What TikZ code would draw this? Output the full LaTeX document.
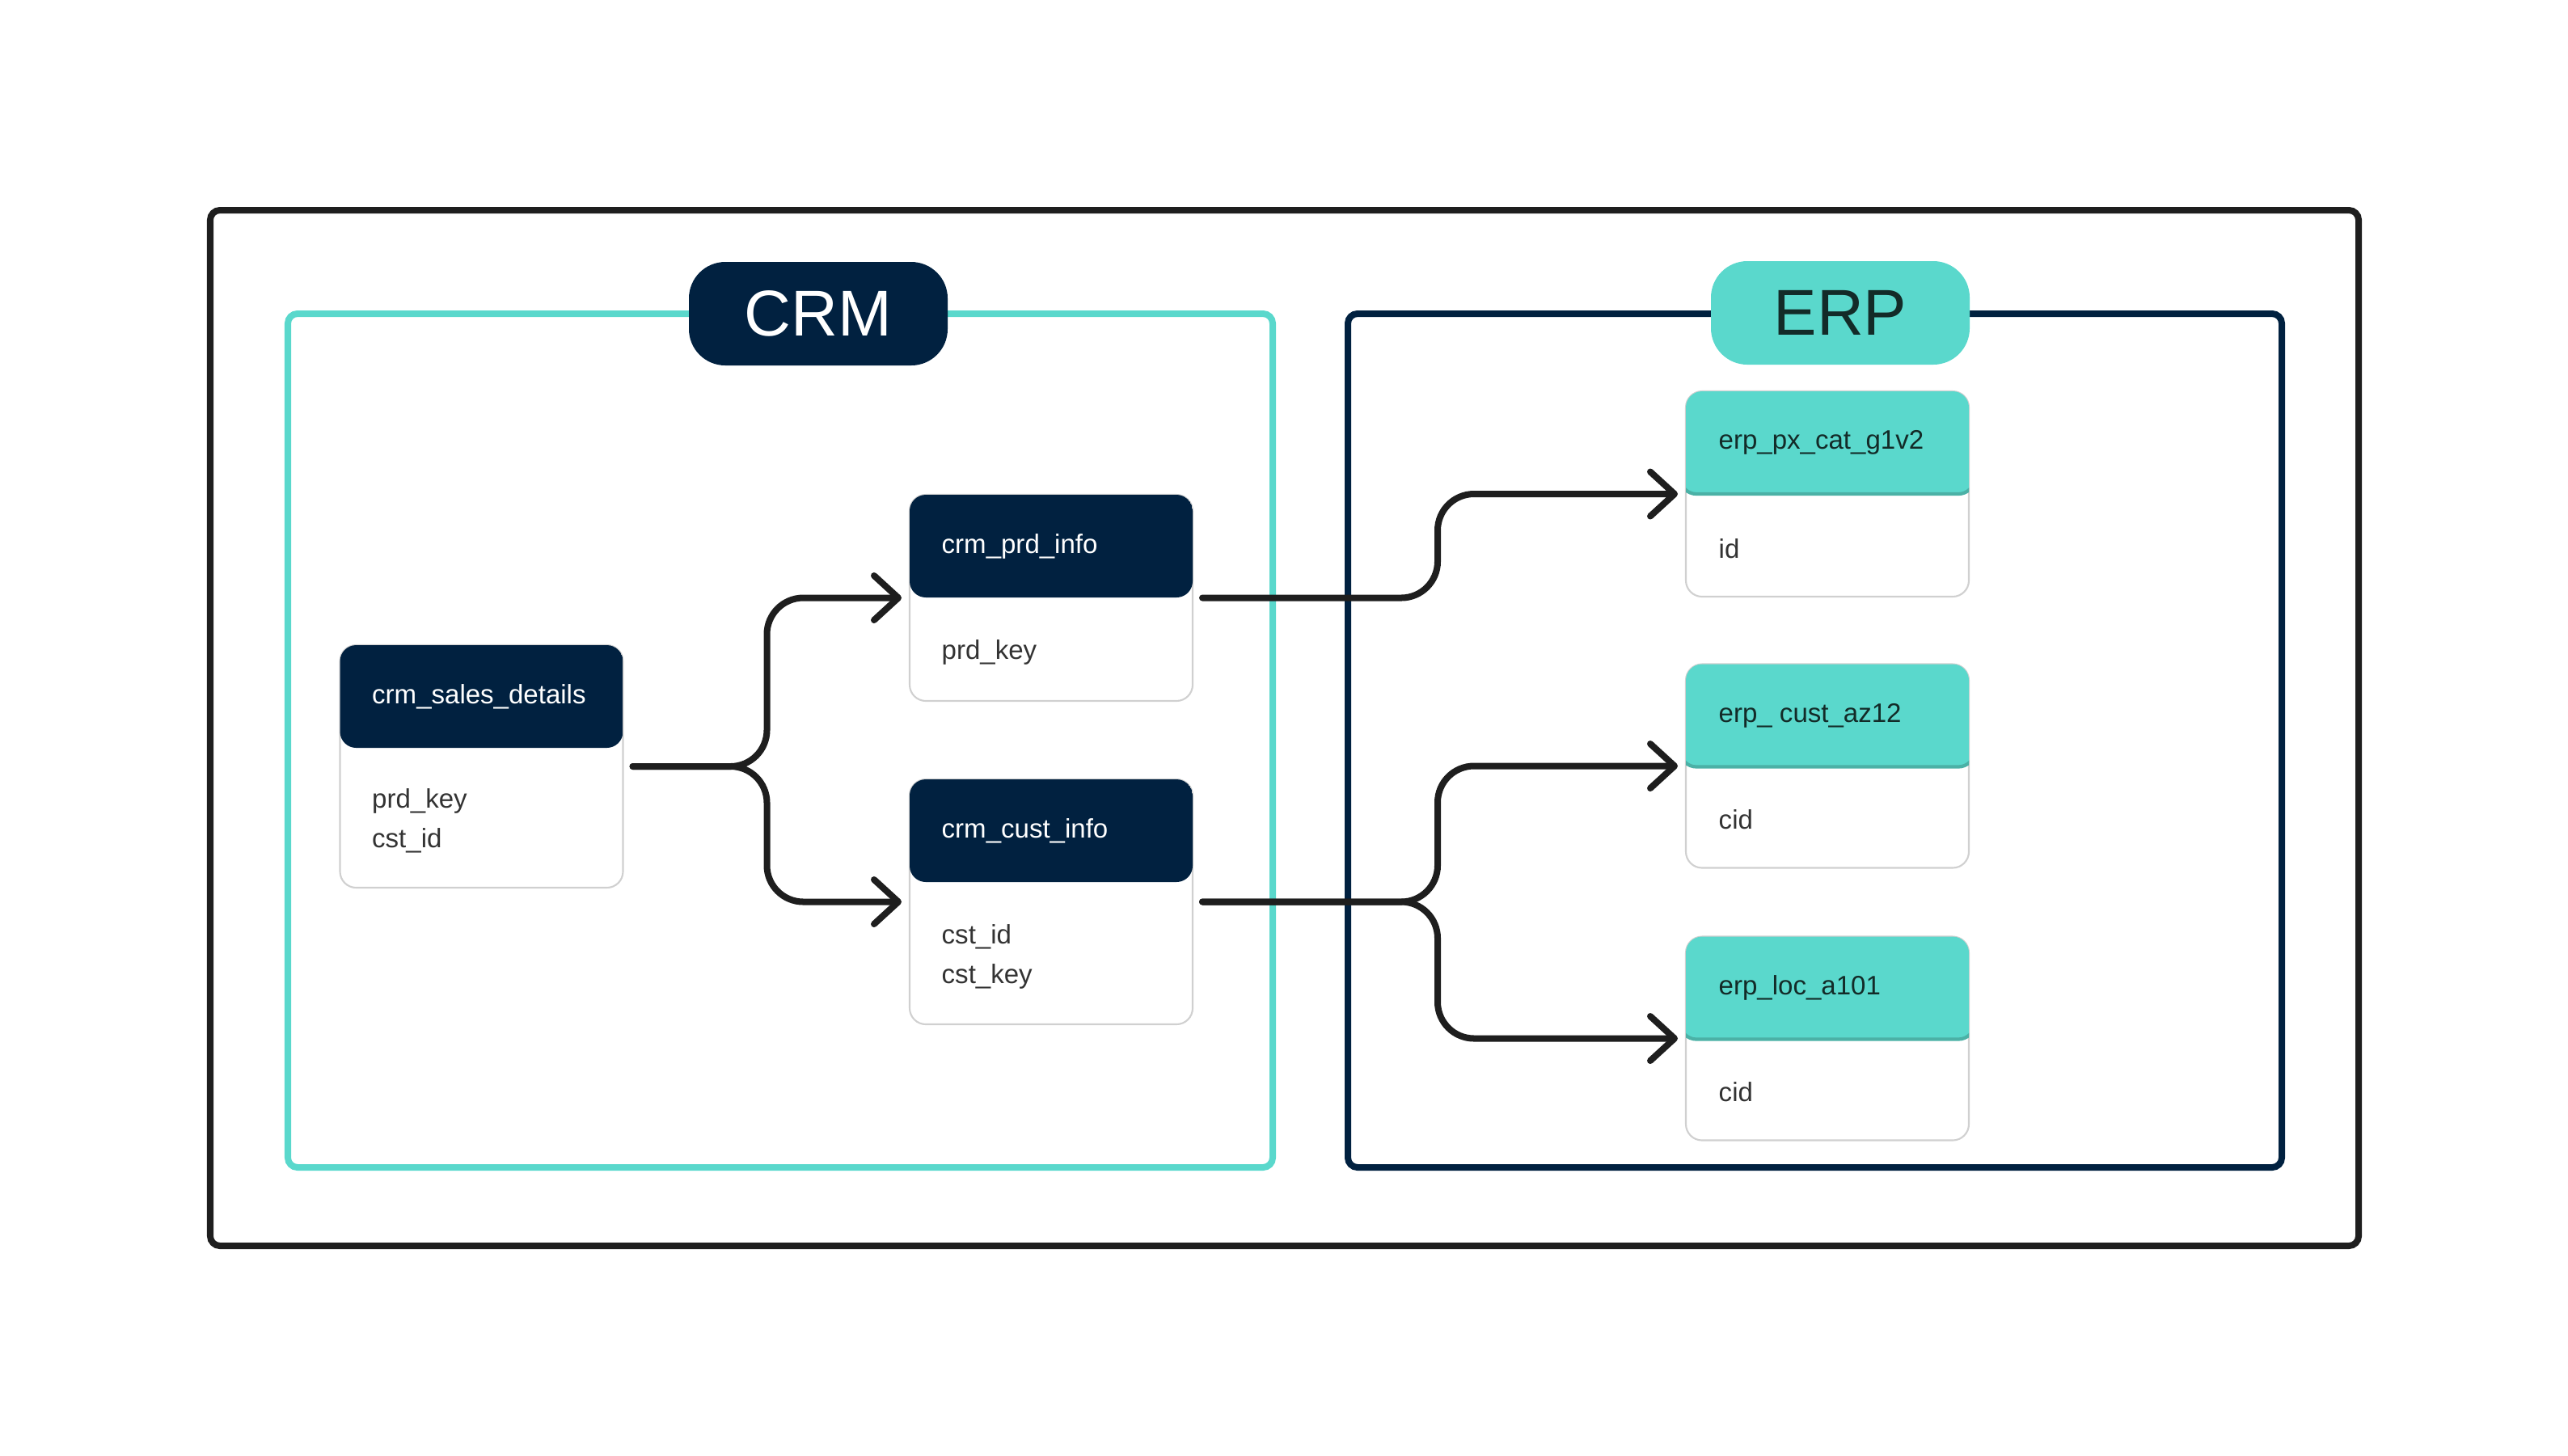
\documentclass[tikz,border=0pt]{standalone}
\usepackage{fontspec}
\setmainfont{Liberation Sans}
\usetikzlibrary{arrows.meta,positioning,calc}

\definecolor{navy}{RGB}{1,33,64}
\definecolor{teal}{RGB}{90,216,204}
\definecolor{tealdark}{RGB}{75,177,166}
\definecolor{ink}{RGB}{30,30,30}
\definecolor{cardline}{RGB}{208,208,208}
\definecolor{bodytext}{RGB}{51,51,51}
\definecolor{erptext}{RGB}{19,43,40}

\tikzset{
	tbl/.style={draw=cardline, line width=0.6pt, fill=white, rounded corners=0.2cm, minimum width=3.5cm, inner sep=0pt, outer sep=0pt},
	navytbl/.style={tbl, postaction={path picture={\fill[navy] (path picture bounding box.north west) rectangle ([yshift=-1.27cm]path picture bounding box.north east);}}},
	tealtbl/.style={tbl, postaction={path picture={\filldraw[fill=teal, draw=tealdark, line width=1.2pt] ([xshift=-2pt,yshift=2pt]path picture bounding box.north west) rectangle ([xshift=2pt,yshift=-1.27cm]path picture bounding box.north east);}}},
	headtxt/.style={font=\fontsize{9.4pt}{11pt}\selectfont, inner sep=0pt, anchor=west},
	fieldtxt/.style={headtxt, align=left, text=bodytext, font=\fontsize{9.4pt}{13.9pt}\selectfont},
	pill/.style={rounded corners=0.45cm, minimum width=3.2cm, minimum height=1.28cm, inner sep=0pt, font=\fontsize{22.8pt}{24pt}\selectfont},
	zone/.style={line width=2.28pt, rounded corners=0.12cm},
	link/.style={draw=ink, line width=2.28pt, rounded corners=0.45cm, line cap=round, -{Straight Barb[length=0.3cm, width=0.55cm, line cap=round, line join=round]}, shorten <=0.12cm, shorten >=0.1cm}
}

\begin{document}
\begin{tikzpicture}[y=-1cm]
	\useasboundingbox (0,0) rectangle (31.76,18.00);

	% frames
	\draw[zone, draw=ink] (2.60,2.60) rectangle (29.17,15.41);
	\draw[zone, draw=teal] (3.56,3.88) rectangle (15.74,14.44);
	\draw[zone, draw=navy] (16.67,3.88) rectangle (28.22,14.44);
	\node[pill, fill=navy, text=white] (crm) at (10.12,3.88) {CRM};
	\node[pill, fill=teal, text=erptext] (erp) at (22.76,3.87) {ERP};

	% crm tables
	\node[navytbl, minimum height=3.00cm] (sales) at (5.955,9.48) {};
	\node[headtxt, text=white] (sales-t) at ([xshift=0.39cm,yshift=-0.635cm]sales.north west) {crm\_sales\_details};
	\node[fieldtxt] (sales-f) at ([xshift=0.39cm,yshift=0.83cm]sales.south west) {prd\_key\\cst\_id};

	\node[navytbl, minimum height=2.55cm] (prd) at (13.00,7.395) {};
	\node[headtxt, text=white] (prd-t) at ([xshift=0.39cm,yshift=-0.635cm]prd.north west) {crm\_prd\_info};
	\node[fieldtxt] (prd-f) at ([xshift=0.39cm,yshift=0.60cm]prd.south west) {prd\_key};

	\node[navytbl, minimum height=3.03cm] (cust) at (13.00,11.155) {};
	\node[headtxt, text=white] (cust-t) at ([xshift=0.39cm,yshift=-0.635cm]cust.north west) {crm\_cust\_info};
	\node[fieldtxt] (cust-f) at ([xshift=0.39cm,yshift=0.84cm]cust.south west) {cst\_id\\cst\_key};

	% erp tables
	\node[tealtbl, minimum height=2.54cm] (px) at (22.60,6.11) {};
	\node[headtxt, text=erptext] (px-t) at ([xshift=0.40cm,yshift=-0.635cm]px.north west) {erp\_px\_cat\_g1v2};
	\node[fieldtxt] (px-f) at ([xshift=0.40cm,yshift=0.595cm]px.south west) {id};

	\node[tealtbl, minimum height=2.52cm] (az) at (22.60,9.475) {};
	\node[headtxt, text=erptext] (az-t) at ([xshift=0.40cm,yshift=-0.635cm]az.north west) {erp\_ cust\_az12};
	\node[fieldtxt] (az-f) at ([xshift=0.40cm,yshift=0.595cm]az.south west) {cid};

	\node[tealtbl, minimum height=2.52cm] (loc) at (22.60,12.845) {};
	\node[headtxt, text=erptext] (loc-t) at ([xshift=0.40cm,yshift=-0.635cm]loc.north west) {erp\_loc\_a101};
	\node[fieldtxt] (loc-f) at ([xshift=0.40cm,yshift=0.595cm]loc.south west) {cid};

	% links
	\draw[link] (sales.east) -- ++(1.78,0) |- (prd.west);
	\draw[link] (sales.east) -- ++(1.78,0) |- (cust.west);
	\draw[link] (prd.east) -- ++(3.03,0) |- (px.west);
	\draw[link] (cust.east) -- ++(3.03,0) |- (az.west);
	\draw[link] (cust.east) -- ++(3.03,0) |- (loc.west);
\end{tikzpicture}
\end{document}
